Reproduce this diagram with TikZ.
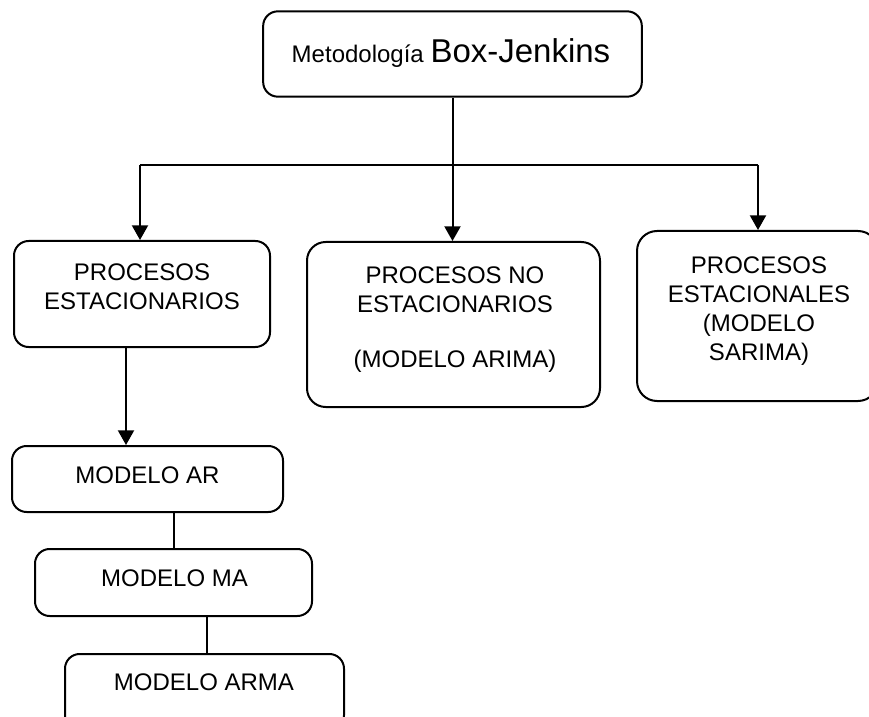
\documentclass[tikz,border=0pt]{standalone}
\usepackage{fontspec}
\setmainfont{Liberation Sans}
\usetikzlibrary{arrows.meta}
\begin{document}
\begin{tikzpicture}[x=0.75pt, y=-0.75pt, line width=1.5pt,
  box/.style = {draw, rounded corners=11pt, inner sep=0},
  txt/.style = {inner sep=0, align=center, font=\fontsize{18}{21.75}\selectfont},
  arr/.style = {-{Triangle[width=12pt,length=11pt]}}]
\clip (0,0) rectangle (869,717);
\node[box, minimum width=284pt, minimum height=64pt] (top) at (452.5,54) {};
\node[txt, anchor=base] (top-t) at (451,63) {Metodología {\fontsize{24.75}{29}\selectfont Box-Jenkins}};
\node[box, minimum width=192pt, minimum height=79.5pt] (est) at (142,294) {};
\node[txt, anchor=north] (est-t) at (142,263) {PROCESOS\\ESTACIONARIOS};
\node[box, rounded corners=14pt, minimum width=219.75pt, minimum height=123.75pt] (noest) at (453.5,324.5) {};
\node[txt, anchor=north] (noest-t) at (455,266) {PROCESOS NO\\ESTACIONARIOS\\[19.5pt](MODELO ARIMA)};
\node[box, rounded corners=15pt, minimum width=180.75pt, minimum height=127.5pt] (estac) at (757.5,316) {};
\node[txt, anchor=north] (estac-t) at (759,256) {PROCESOS\\ESTACIONALES\\(MODELO\\SARIMA)};
\node[box, minimum width=203.25pt, minimum height=49.5pt] (ar) at (147.5,479) {};
\node[txt, anchor=base] (ar-t) at (147.5,483) {MODELO AR};
\node[box, minimum width=207.75pt, minimum height=50.25pt] (ma) at (173.5,582.5) {};
\node[txt, anchor=base] (ma-t) at (174.5,586) {MODELO MA};
\node[box, minimum width=209.25pt, minimum height=57pt] (arma) at (204.5,692) {};
\node[txt, anchor=base] (arma-t) at (204,690) {MODELO ARMA};
% ramas
\coordinate (lft) at (140,165);
\coordinate (rgt) at (758,165);
\draw (lft) -- (rgt);
\draw[arr] (top.south) -- (top.south |- noest.north);
\draw[arr] (lft) -- (lft |- est.north);
\draw[arr] (rgt) -- (rgt |- estac.north);
\draw[arr] ([xshift=-12pt]est.south) -- ([xshift=-12pt]est.south |- ar.north);
\draw (ma.north |- ar.south) -- (ma.north);
\draw ([xshift=2pt]arma.north |- ma.south) -- ([xshift=2pt]arma.north);
\end{tikzpicture}
\end{document}
